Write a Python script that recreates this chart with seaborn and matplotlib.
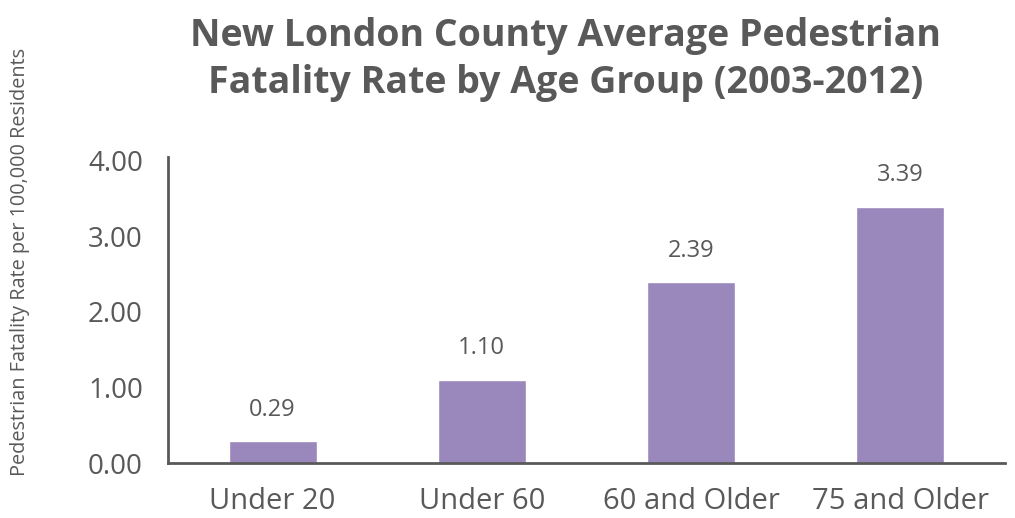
import matplotlib
matplotlib.use("Agg")
import matplotlib.pyplot as plt
import seaborn as sns
import pandas as pd

age_groups = ["Under 20", "Under 60", "60 and Older", "75 and Older"]
fatality_rate = [0.29, 1.10, 2.39, 3.39]
y_ticks = [0, 1, 2, 3, 4]

gray = "#595959"
bar_color = "#9a87bb"

sns.set_style("white")
plt.rcParams["font.family"] = ["Open Sans", "DejaVu Sans"]

df = pd.DataFrame({"group": age_groups, "rate": fatality_rate})

fig = plt.figure(figsize=(10.15, 5.18), dpi=100)
ax = fig.add_axes([0.1655, 0.106, 0.8245, 0.591])

sns.barplot(data=df, x="group", y="rate", color=bar_color, width=0.42,
            saturation=1, ax=ax)

for c in ax.containers:
    ax.bar_label(c, labels=[f"{v:.2f}" for v in fatality_rate], padding=14,
                 fontsize=17, color=gray)

ax.set_xlim(-0.5, 3.5)
ax.set_ylim(0, 4.05)
ax.set_yticks(y_ticks)
ax.set_yticklabels([f"{v:.2f}" for v in y_ticks])
ax.tick_params(axis="y", length=0, pad=18, labelsize=20, labelcolor=gray)
ax.tick_params(axis="x", length=0, pad=17, labelsize=21, labelcolor=gray)
ax.set_xlabel("")
ax.set_ylabel("")

for s in ["top", "right"]:
    ax.spines[s].set_visible(False)
for s in ["left", "bottom"]:
    ax.spines[s].set_color(gray)
    ax.spines[s].set_linewidth(2)

fig.text(0.02, 0.494, "Pedestrian Fatality Rate per 100,000 Residents",
         rotation=90, ha="center", va="center", fontsize=14.3, color=gray)
fig.text(0.557, 0.885, "New London County Average Pedestrian\nFatality Rate by Age Group (2003-2012)",
         ha="center", va="center", fontsize=27, fontweight="bold", color=gray,
         linespacing=1.3)

fig.savefig("out.png", dpi=100)
